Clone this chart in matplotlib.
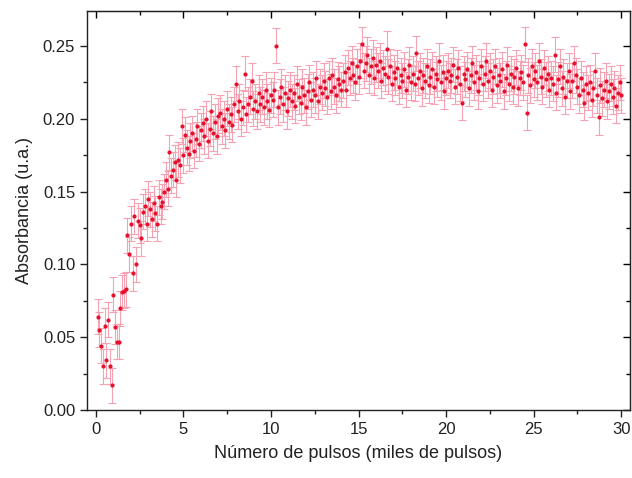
import matplotlib.pyplot as plt
import numpy as np
from matplotlib.ticker import MultipleLocator

plt.rcParams['font.family'] = ['Liberation Sans', 'DejaVu Sans']

# pulse count in thousands, one reading every 100 pulses
pulsos = np.arange(1, 301) / 10.0

# absorbance readings, ten per thousand pulses
absorbancia = [
    0.064, 0.055, 0.044, 0.030, 0.058, 0.034, 0.062, 0.030, 0.017, 0.079,
    0.057, 0.047, 0.047, 0.070, 0.081, 0.082, 0.083, 0.120, 0.107, 0.128,
    0.094, 0.133, 0.100, 0.130, 0.127, 0.118, 0.136, 0.140, 0.128, 0.145,
    0.138, 0.131, 0.142, 0.135, 0.128, 0.146, 0.140, 0.143, 0.150, 0.158,
    0.152, 0.177, 0.161, 0.165, 0.170, 0.158, 0.172, 0.168, 0.195, 0.175,
    0.189, 0.180, 0.176, 0.185, 0.190, 0.178, 0.186, 0.195, 0.183, 0.192,
    0.197, 0.188, 0.200, 0.185, 0.193, 0.205, 0.190, 0.198, 0.188, 0.202,
    0.204, 0.195, 0.200, 0.192, 0.207, 0.198, 0.203, 0.196, 0.210, 0.224,
    0.205, 0.212, 0.200, 0.208, 0.231, 0.203, 0.210, 0.215, 0.226, 0.207,
    0.212, 0.205, 0.218, 0.210, 0.215, 0.208, 0.220, 0.212, 0.206, 0.216,
    0.213, 0.220, 0.250, 0.208, 0.215, 0.222, 0.210, 0.218, 0.205, 0.214,
    0.220, 0.212, 0.218, 0.209, 0.224, 0.215, 0.211, 0.222, 0.216, 0.208,
    0.219, 0.225, 0.213, 0.220, 0.216, 0.228, 0.212, 0.222, 0.218, 0.226,
    0.221, 0.215, 0.228, 0.219, 0.230, 0.222, 0.216, 0.227, 0.224, 0.220,
    0.226, 0.232, 0.220, 0.235, 0.228, 0.238, 0.230, 0.225, 0.236, 0.229,
    0.240, 0.251, 0.233, 0.238, 0.244, 0.230, 0.236, 0.242, 0.228, 0.237,
    0.233, 0.240, 0.226, 0.235, 0.231, 0.248, 0.229, 0.236, 0.224, 0.232,
    0.228, 0.235, 0.222, 0.230, 0.226, 0.234, 0.220, 0.229, 0.237, 0.225,
    0.231, 0.224, 0.245, 0.228, 0.233, 0.221, 0.230, 0.226, 0.236, 0.223,
    0.229, 0.234, 0.222, 0.231, 0.227, 0.240, 0.225, 0.232, 0.219, 0.228,
    0.233, 0.226, 0.230, 0.237, 0.222, 0.229, 0.235, 0.224, 0.211, 0.231,
    0.227, 0.234, 0.221, 0.230, 0.238, 0.225, 0.232, 0.219, 0.228, 0.236,
    0.224, 0.231, 0.240, 0.226, 0.233, 0.220, 0.229, 0.236, 0.223, 0.230,
    0.226, 0.234, 0.219, 0.228, 0.237, 0.224, 0.231, 0.222, 0.229, 0.235,
    0.221, 0.228, 0.232, 0.225, 0.251, 0.204, 0.230, 0.223, 0.236, 0.227,
    0.233, 0.225, 0.240, 0.229, 0.222, 0.235, 0.227, 0.231, 0.220, 0.228,
    0.224, 0.244, 0.218, 0.227, 0.236, 0.221, 0.229, 0.215, 0.226, 0.233,
    0.219, 0.226, 0.238, 0.230, 0.222, 0.216, 0.228, 0.220, 0.211, 0.224,
    0.218, 0.225, 0.213, 0.221, 0.233, 0.216, 0.201, 0.223, 0.214, 0.220,
    0.226, 0.212, 0.219, 0.224, 0.215, 0.221, 0.209, 0.218, 0.225, 0.216,
]

# uncertainty of each reading
error = 0.012

fig = plt.figure(figsize=(6.32, 4.78), dpi=100)
ax = fig.add_axes([0.1377, 0.1423, 0.8592, 0.8347])

ax.errorbar(pulsos, absorbancia, yerr=error, fmt='o', ms=2.0,
            color='#e5102c', ecolor='#f5a2b2', elinewidth=0.8,
            capsize=2.6, capthick=0.8, zorder=3)

ax.set_xlim(-0.5, 30.5)
ax.set_ylim(0.0, 0.274)
ax.xaxis.set_major_locator(MultipleLocator(5))
ax.xaxis.set_minor_locator(MultipleLocator(2.5))
ax.yaxis.set_major_locator(MultipleLocator(0.05))
ax.yaxis.set_minor_locator(MultipleLocator(0.025))
ax.yaxis.set_major_formatter(plt.FormatStrFormatter('%.2f'))

ax.tick_params(which='both', direction='out', labelsize=12, width=1,
               colors='#222222')
ax.tick_params(which='major', length=5)
ax.tick_params(which='minor', length=3)

# inward ticks on the top and right frame
for spine in ax.spines.values():
    spine.set_linewidth(1.0)
    spine.set_color('#222222')
top = ax.secondary_xaxis('top')
top.xaxis.set_major_locator(MultipleLocator(5))
top.xaxis.set_minor_locator(MultipleLocator(2.5))
top.tick_params(which='both', direction='in', labeltop=False, width=1)
top.tick_params(which='major', length=5)
top.tick_params(which='minor', length=3)
right = ax.secondary_yaxis('right')
right.yaxis.set_major_locator(MultipleLocator(0.05))
right.yaxis.set_minor_locator(MultipleLocator(0.025))
right.tick_params(which='both', direction='in', labelright=False, width=1)
right.tick_params(which='major', length=5)
right.tick_params(which='minor', length=3)

ax.set_xlabel('Número de pulsos (miles de pulsos)', fontsize=13,
              color='#222222', labelpad=6)
ax.set_ylabel('Absorbancia (u.a.)', fontsize=13, color='#222222',
              labelpad=7)

fig.savefig('out.png', dpi=100)
